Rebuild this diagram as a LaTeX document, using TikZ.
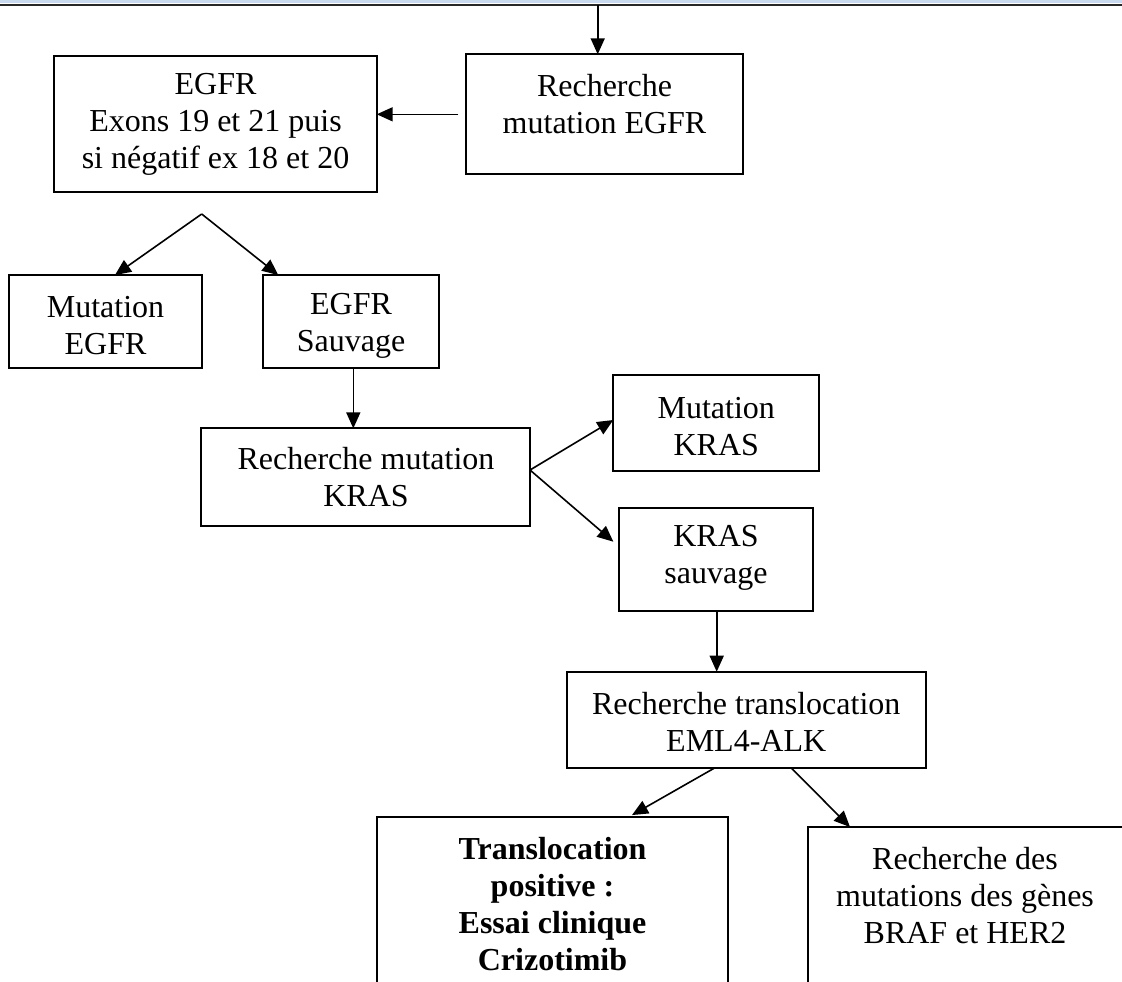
\documentclass[tikz,border=0pt]{standalone}
\usepackage{fontspec}
\setmainfont{Liberation Serif}
\usetikzlibrary{arrows.meta}
\definecolor{topblue}{RGB}{201,217,238}
\definecolor{topline}{RGB}{40,40,40}
\begin{document}
\begin{tikzpicture}[x=0.5pt,y=-0.5pt,
  boxn/.style={draw=black, line width=0.9pt, rectangle, inner sep=0pt, outer sep=0pt},
  txt/.style={align=center, inner sep=0pt, font=\fontsize{16}{18.5}\selectfont},
  arr/.style={draw=black, line width=0.8pt, -{Triangle[length=8pt,width=7pt]}}]
\useasboundingbox (0,0) rectangle (1122,981);
\clip (0,0) rectangle (1122,981);
\fill[white] (0,0) rectangle (1122,981);
\fill[topblue] (0,0) rectangle (1122,3.4);
\draw[line width=0.9pt, topline] (0,4.6) -- (1122,4.6);
\coordinate (topc) at (597.7,5);
\coordinate (apex) at (201.7,214);

% boxes
\node[boxn, minimum width=138.8pt, minimum height=60pt] (r1) at (604.5,114.3) {};
\node[boxn, minimum width=161.2pt, minimum height=68.3pt] (e1) at (215.5,124) {};
\node[boxn, minimum width=96.2pt, minimum height=46.65pt] (me) at (105.5,321.7) {};
\node[boxn, minimum width=87.7pt, minimum height=46.65pt] (es) at (351,321.7) {};
\node[boxn, minimum width=164.5pt, minimum height=48.85pt] (k1) at (365.5,477.2) {};
\node[boxn, minimum width=103pt, minimum height=47.85pt] (mk) at (716.3,422.9) {};
\node[boxn, minimum width=96.85pt, minimum height=51.65pt] (ks) at (715.9,559.4) {};
\node[boxn, minimum width=179.5pt, minimum height=48pt] (t1) at (746.2,719.7) {};
\node[boxn, minimum width=175.5pt, minimum height=91.65pt] (tp) at (552.5,908.4) {};
\node[boxn, minimum width=161pt, minimum height=86.5pt] (rd) at (969,913.5) {};

% texts
\node[txt] (r1t) at (604.5,104.5) {Recherche\\mutation EGFR};
\node[txt] (e1t) at (215.5,124.2) {EGFR\\Exons 19 et 21 puis\\si négatif ex 18 et 20};
\node[txt] (met) at (105.5,325.4) {Mutation\\EGFR};
\node[txt] (est) at (351,325.4) {EGFR\\Sauvage};
\node[txt] (k1t) at (366,477) {Recherche mutation\\KRAS};
\node[txt] (mkt) at (716.3,426.7) {Mutation\\KRAS};
\node[txt] (kst) at (716,558.3) {KRAS\\sauvage};
\node[txt] (t1t) at (746.2,722.3) {Recherche translocation\\EML4-ALK};
\node[txt, font=\fontsize{16}{18.5}\selectfont\bfseries] (tpt) at (552.5,904) {Translocation\\positive :\\Essai clinique\\Crizotimib};
\node[txt] (rdt) at (965,896) {Recherche des\\mutations des gènes\\BRAF et HER2};

% connectors
\draw[arr] (topc) -- (topc |- r1.north);
\draw[arr] ([xshift=-3.7pt]r1.west) -- (e1.east |- r1.west);
\draw[arr] (apex) -- ([xshift=4.75pt]me.north);
\draw[arr] (apex) -- ([xshift=-36.35pt]es.north);
\draw[arr] ([xshift=1.15pt]es.south) -- ([xshift=1.15pt]es.south |- k1.north);
\draw[arr] ([yshift=3.6pt]k1.east) -- ([yshift=1.45pt]mk.west);
\draw[arr] ([yshift=3.6pt]k1.east) -- ([xshift=-2.85pt,yshift=8.85pt]ks.west);
\draw[arr] ([xshift=0.4pt]ks.south) -- ([xshift=0.4pt]ks.south |- t1.north);
\draw[arr] ([xshift=-15.6pt]t1.south) -- ([xshift=39.75pt,yshift=0.85pt]tp.north);
\draw[arr] ([xshift=22.4pt]t1.south) -- ([xshift=-59.5pt]rd.north);
\end{tikzpicture}
\end{document}
